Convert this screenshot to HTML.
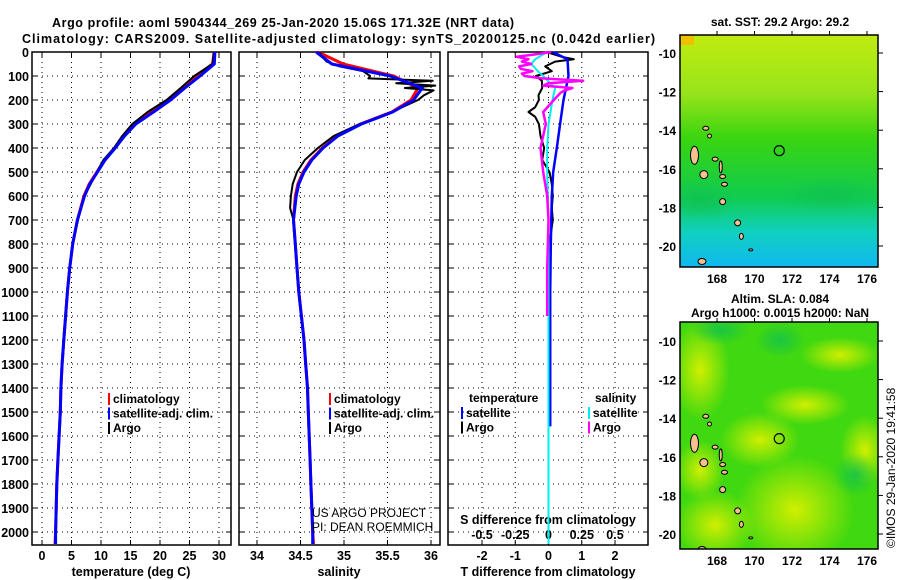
<!DOCTYPE html>
<html><head><meta charset="utf-8"><style>
body{margin:0;background:#fff}
svg{display:block;font-family:"Liberation Sans",sans-serif}
.b{font-weight:bold;font-size:12.5px}
</style></head><body>
<svg id="s" width="900" height="580" viewBox="0 0 900 580">
<defs>
<linearGradient id="g1" x1="0" y1="0" x2="0" y2="1">
<stop offset="0" stop-color="#c0ec10"/><stop offset="0.25" stop-color="#98e41a"/><stop offset="0.45" stop-color="#38d410"/><stop offset="0.7" stop-color="#10cc50"/><stop offset="0.85" stop-color="#10d0c0"/><stop offset="1" stop-color="#10b8f0"/>
</linearGradient>
<radialGradient id="y1" cx="0.5" cy="0.5" r="0.5"><stop offset="0" stop-color="#d8f000" stop-opacity="0.95"/><stop offset="1" stop-color="#d8f000" stop-opacity="0"/></radialGradient>
<radialGradient id="y2" cx="0.5" cy="0.5" r="0.5"><stop offset="0" stop-color="#10c050" stop-opacity="0.8"/><stop offset="1" stop-color="#10c050" stop-opacity="0"/></radialGradient>
<clipPath id="c1"><rect x="680" y="35" width="198" height="232"/></clipPath>
<clipPath id="c2"><rect x="680" y="322" width="198" height="227"/></clipPath>
</defs>
<text class="b" x="52" y="27" textLength="462">Argo profile: aoml 5904344_269 25-Jan-2020 15.06S 171.32E (NRT data)</text>
<text class="b" x="22" y="43" textLength="633">Climatology: CARS2009. Satellite-adjusted climatology: synTS_20200125.nc (0.042d earlier)</text>
<g id="plots"></g>
<g id="maps"></g>
<text x="312" y="517" font-size="12" fill="#000">US ARGO PROJECT</text>
<text x="312" y="531" font-size="12" fill="#000">PI: DEAN ROEMMICH</text>
<text x="895" y="548" font-size="12" transform="rotate(-90 895 548)">©IMOS 29-Jan-2020 19:41:58</text>
</svg>
<script>
const NS='http://www.w3.org/2000/svg';
const depths=[0,50,100,150,200,250,300,350,400,450,500,550,600,700,800,900,1000,1100,1200,1300,1400,1500,1600,1700,1800,1900,2000,2050];
const tempClim=[29.2,28.9,26.2,23.7,21.4,18.5,15.6,13.8,12.3,10.6,9.3,8.0,7.1,6.0,5.2,4.7,4.3,4.0,3.7,3.4,3.2,3.1,2.9,2.7,2.5,2.4,2.3,2.2];
const tempSat=[29.3,29.2,26.8,24.2,21.8,18.9,15.9,14.0,12.4,10.7,9.4,8.1,7.2,6.0,5.2,4.7,4.3,4.0,3.7,3.4,3.2,3.1,2.9,2.7,2.5,2.4,2.3,2.3];
const argoDepths=[0,30,50,100,150,200,250,300,350,400,450,500,600,700,800,900,1000,1100];
const tempArgo=[29.1,29.0,28.9,25.8,23.5,21.1,17.9,15.3,13.6,12.2,10.4,9.3,7.2,6.1,5.2,4.7,4.3,4.0];
const salClim=[34.70,34.99,35.57,35.85,35.77,35.55,35.19,34.92,34.75,34.62,34.53,34.47,34.44,34.42,34.44,34.46,34.48,34.51,34.54,34.56,34.58,34.59,34.60,34.61,34.62,34.63,34.64,34.65];
const salSat=[34.68,34.86,35.53,35.90,35.80,35.56,35.20,34.93,34.76,34.63,34.54,34.48,34.45,34.42,34.44,34.46,34.48,34.51,34.54,34.56,34.58,34.59,34.60,34.61,34.62,34.63,34.64,34.64];
const salArgoDepths=[0,20,40,60,80,100,110,120,130,140,150,160,180,200,250,300,350,400,450,500,550,600,650,700,800,900,1000,1100];
const salArgo=[34.72,34.75,34.80,34.95,35.22,35.30,35.28,36.02,35.60,36.05,35.70,36.03,35.92,35.85,35.55,35.18,34.88,34.70,34.55,34.46,34.41,34.39,34.38,34.42,34.44,34.46,34.48,34.51];
const tDiffSatDepths=[0,30,100,200,300,400,500,600,800,1000,1200,1400,1560];
const tDiffSat=[0.13,0.57,0.6,0.45,0.35,0.25,0.14,0.1,0.07,0.05,0.05,0.05,0.05];
const tDiffArgoDepths=[0,20,30,40,60,80,100,120,150,180,200,230,250,270,300,350,400,450,500,550,600,650,700,800,900,1000,1100];
const tDiffArgo=[-0.06,0.4,0.76,0.2,-0.1,0.1,-0.38,-0.2,-0.19,-0.3,-0.29,-0.4,-0.6,-0.4,-0.29,-0.24,-0.13,-0.19,0.03,0.1,0.13,0.1,0.13,0.03,-0.03,0.03,0.03];
const sDiffSatDepths=[0,30,50,80,100,150,200,300,400,500,700,1000,1500,2050];
const sDiffSat=[-0.01,-0.1,-0.13,-0.08,-0.04,0.05,0.03,0,-0.01,-0.01,0,0,0,0];
const sDiffArgoDepths=[0,10,20,30,40,50,60,70,80,90,100,110,120,130,140,150,160,170,200,250,300,400,500,600,700,900,1100];
const sDiffArgo=[0.02,-0.1,-0.24,-0.15,-0.2,-0.13,-0.22,-0.21,-0.12,-0.2,-0.18,-0.05,0.26,0.0,-0.04,0.18,0.12,0.09,0.04,-0.04,-0.02,-0.06,-0.04,-0.01,0,-0.01,-0.01];
const depthTicks=[0,100,200,300,400,500,600,700,800,900,1000,1100,1200,1300,1400,1500,1600,1700,1800,1900,2000];
const tempTicks=[0,5,10,15,20,25,30];
const salTicks=[34,34.5,35,35.5,36];
const salTickLabels=['34','34.5','35','35.5','36'];
const tdTicks=[-2,-1,0,1,2];
const sdTicks=[-0.5,-0.25,0,0.25,0.5];
const sdTickLabels=['-0.5','-0.25','0','0.25','0.5'];
const latTicks=[-10,-12,-14,-16,-18,-20];
const lonTicks=[168,170,172,174,176];

const yD=d=>52+d*0.24;
const xT=t=>42+t*5.9;
const xS=s=>257+(s-34)*87;
const xTD=t=>548.5+t*33.25;
const xSD=s=>548.5+s*133;
const G=document.getElementById('plots');
function el(tag,attrs,parent){const e=document.createElementNS(NS,tag);for(const k in attrs)e.setAttribute(k,attrs[k]);(parent||G).appendChild(e);return e;}
function txt(x,y,s,anchor,parent,size){const t=el('text',{x:x,y:y,'text-anchor':anchor||'start','font-size':size||12.5,'font-weight':'bold'},parent);t.textContent=s;return t;}

const panels=[[32,231],[239,440],[448,648]];
panels.forEach((p,i)=>{
  const r=el('rect',{x:p[0],y:52,width:p[1]-p[0],height:493,fill:'none',stroke:'#000','stroke-width':1.5});
  
  
  depthTicks.forEach(d=>{
    const l=el('line',{x1:p[0],x2:p[1],y1:yD(d),y2:yD(d),stroke:'#000','stroke-dasharray':'1,4'});
    
    
    el('line',{x1:p[0],x2:p[0]+5,y1:yD(d),y2:yD(d),stroke:'#000'});
    el('line',{x1:p[1]-5,x2:p[1],y1:yD(d),y2:yD(d),stroke:'#000'});
  });
});
depthTicks.forEach(d=>{const t=txt(29,yD(d)+5,String(d),'end');
  
  });
function vgrid(ticks,fx){ticks.forEach(v=>{const l=el('line',{x1:fx(v),x2:fx(v),y1:52,y2:545,stroke:'#000','stroke-dasharray':'1,4'});
  
  
  el('line',{x1:fx(v),x2:fx(v),y1:52,y2:57,stroke:'#000'});el('line',{x1:fx(v),x2:fx(v),y1:540,y2:545,stroke:'#000'});});}
vgrid(tempTicks,xT);vgrid(salTicks,xS);vgrid(tdTicks,xTD);
tempTicks.forEach(v=>{const t=txt(xT(v),560,String(v),'middle');
  
  });
salTicks.forEach((v,i)=>{const t=txt(xS(v),560,salTickLabels[i],'middle');
  
  });
tdTicks.forEach(v=>{const t=txt(xTD(v),560,String(v),'middle');
  
  });
sdTicks.forEach((v,i)=>{const t=txt(xSD(v),539,sdTickLabels[i],'middle');
  
  });
let t;
t=txt(131,576,'temperature (deg C)','middle');


t=txt(339,576,'salinity','middle');


t=txt(548,576,'T difference from climatology','middle');


t=txt(548,524,'S difference from climatology','middle');



function line(ds,vs,fx,color,w,name){
  const pts=ds.map((d,i)=>fx(vs[i]).toFixed(1)+','+yD(d).toFixed(1)).join(' ');
  const p=el('polyline',{points:pts,fill:'none',stroke:color,'stroke-width':w,'stroke-linejoin':'round'});
  
  
}
line(depths,tempClim,xT,'#f00',3,'temperature-climatology-line');
line(argoDepths,tempArgo,xT,'#000',2,'temperature-argo-line');
line(depths,tempSat,xT,'#00f',3,'temperature-satellite-line');
line(depths,salClim,xS,'#f00',3,'salinity-climatology-line');
line(salArgoDepths,salArgo,xS,'#000',2,'salinity-argo-line');
line(depths,salSat,xS,'#00f',3,'salinity-satellite-line');
line(tDiffArgoDepths,tDiffArgo,xTD,'#000',2,'tdiff-argo-line');
line(tDiffSatDepths,tDiffSat,xTD,'#00f',2.5,'tdiff-satellite-line');
line(sDiffSatDepths,sDiffSat,xSD,'#0ee',2,'sdiff-satellite-line');
line(sDiffArgoDepths,sDiffArgo,xSD,'#f0f',2.5,'sdiff-argo-line');

function legend(x,y,items,name){items.forEach((it,i)=>{
  el('rect',{x:x,y:y+i*14.5-9,width:2,height:12,fill:it[1]});
  const t=txt(x+5,y+i*14.5+1,it[0],'start',G,12);
  
  });}
legend(108,402,[['climatology','#f00'],['satellite-adj. clim.','#00f'],['Argo','#000']],'temp-legend-entry');
legend(329,402,[['climatology','#f00'],['satellite-adj. clim.','#00f'],['Argo','#000']],'sal-legend-entry');
t=txt(469,402,'temperature','start',G,12);


t=txt(595,402,'salinity','start',G,12);


legend(461,416,[['satellite','#00f'],['Argo','#000']],'tdiff-legend-entry');
legend(588,416,[['satellite','#0ee'],['Argo','#f0f']],'sdiff-legend-entry');

// maps
const M=document.getElementById('maps');
const maps=[{top:35,bot:267,lat10:53,clip:'c1'},{top:322,bot:549,lat10:341,clip:'c2'}];
const lonX=l=>717+(l-168)*18.75;
const islands=[[166.8,-15.3,4,9],[167.9,-15.5,3,2],[167.3,-16.3,4,4],[168.2,-15.9,1.5,6],[168.3,-16.4,3,2],[168.4,-16.8,3,2],[168.3,-17.7,3,3],[169.1,-18.8,3,3],[169.3,-19.5,2,3],[169.8,-20.2,2,1],[167.2,-20.8,4,3],[167.6,-14.3,2,2],[167.4,-13.9,3,2]];
maps.forEach((m,i)=>{
  const latY=la=>m.lat10+(-10-la)*19.3;
  const g=el('g',{'clip-path':'url(#'+m.clip+')'},M);
  
  
  if(i==0){
    el('rect',{x:680,y:m.top,width:198,height:m.bot-m.top,fill:'url(#g1)'},g);
    el('rect',{x:680,y:m.top,width:14,height:10,fill:'#f0c000'},g);
    el('ellipse',{cx:830,cy:195,rx:50,ry:18,fill:'url(#y2)'},g);
    el('ellipse',{cx:700,cy:200,rx:35,ry:20,fill:'url(#y2)'},g);
  } else {
    el('rect',{x:680,y:m.top,width:198,height:m.bot-m.top,fill:'#40d810'},g);
    [[700,370,30,50],[795,510,60,55],[715,525,40,35],[760,440,40,28],[805,405,45,20],[865,450,25,35],[840,355,40,18],[700,470,25,30]].forEach(e=>el('ellipse',{cx:e[0],cy:e[1],rx:e[2],ry:e[3],fill:'url(#y1)'},g));
    [[780,340,25,18],[855,475,22,22],[720,330,30,15]].forEach(e=>el('ellipse',{cx:e[0],cy:e[1],rx:e[2],ry:e[3],fill:'url(#y2)'},g));
  }
  islands.forEach(s=>el('ellipse',{cx:lonX(s[0]),cy:latY(s[1]),rx:s[2],ry:s[3],fill:'#f8c090',stroke:'#000','stroke-width':1},g));
  const c=el('circle',{cx:lonX(171.32),cy:latY(-15.06),r:5,fill:'none',stroke:'#000','stroke-width':1.2},M);
  
  
  const fr=el('rect',{x:680,y:m.top,width:198,height:m.bot-m.top,fill:'none',stroke:'#000','stroke-width':1.5},M);
  
  
  latTicks.forEach(la=>{
    const tl=txt(676,latY(la)+5,String(la),'end',M,12);
    
    
    el('line',{x1:878,x2:883,y1:latY(la),y2:latY(la),stroke:'#000'},M);
  });
  lonTicks.forEach(lo=>{
    const tl=txt(lonX(lo),m.bot+16,String(lo),'middle',M,12);
    
    
    el('line',{x1:lonX(lo),x2:lonX(lo),y1:m.top-4,y2:m.top,stroke:'#000'},M);
  });
});
t=txt(780,26,'sat. SST: 29.2 Argo: 29.2','middle',M,12);


t=txt(780,303,'Altim. SLA: 0.084','middle',M,12);


t=txt(780,317,'Argo h1000: 0.0015 h2000: NaN','middle',M,12);


</script>
</body></html>
